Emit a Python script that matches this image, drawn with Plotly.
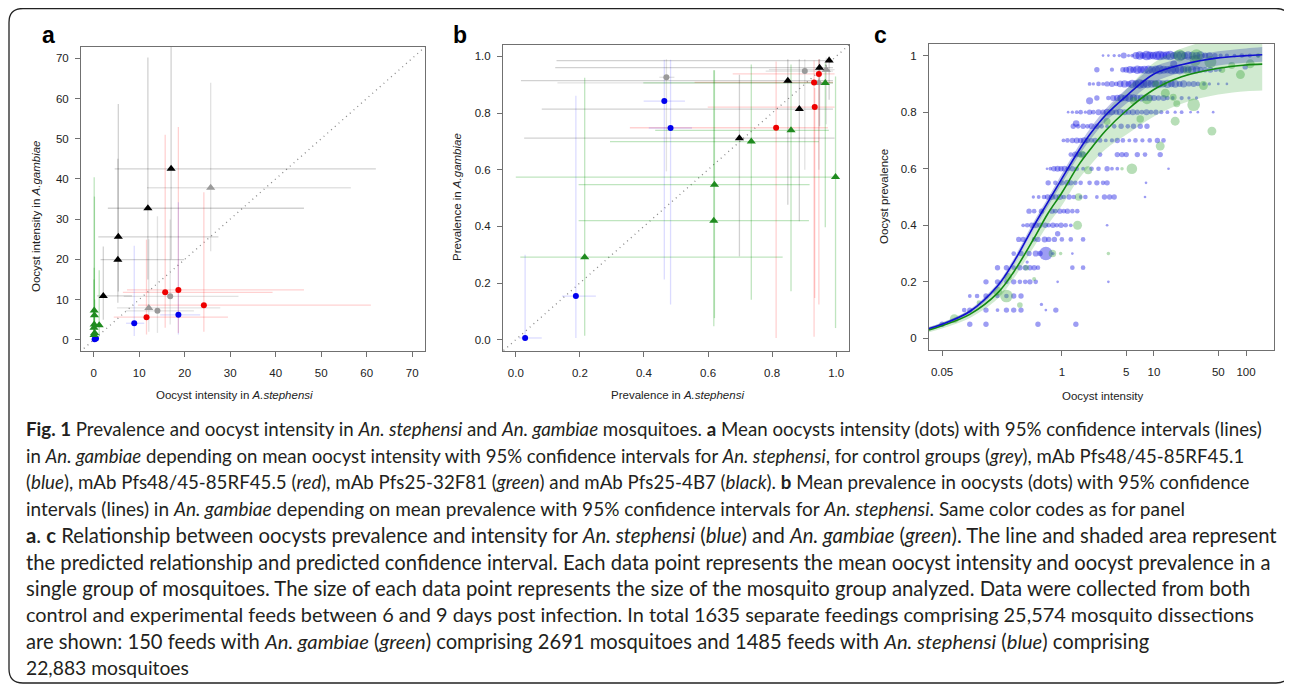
import plotly.graph_objects as go

# the page body has an 8px margin, so the figure is drawn 8px smaller and offset
OFF = 8
W, H = 1292 - OFF, 685 - OFF

# ---------------- Panel a: oocyst intensity (mean, 95% CI) ----------------
a_black_x = [17.0, 11.9, 5.4, 5.3, 2.1]
a_black_y = [42.5, 32.7, 25.6, 19.9, 10.9]
a_black_xlo = [4.6, 3.1, 1.0, 1.5, 0.7]
a_black_xhi = [62.0, 46.2, 27.4, 19.9, 8.4]
a_black_ylo = [20.0, 15.0, 12.0, 9.2, 5.0]
a_black_yhi = [80.0, 70.2, 58.6, 45.0, 23.2]

a_greytri_x = [25.7, 12.1]
a_greytri_y = [37.8, 7.9]
a_greytri_xlo = [11.7, 5.1]
a_greytri_xhi = [56.5, 27.8]
a_greytri_ylo = [22.0, 2.0]
a_greytri_yhi = [63.9, 25.0]

a_greydot_x = [16.8, 14.0]
a_greydot_y = [10.8, 7.2]
a_greydot_xlo = [6.6, 7.0]
a_greydot_xhi = [31.8, 22.0]
a_greydot_ylo = [3.8, 1.7]
a_greydot_yhi = [29.9, 30.7]

a_red_x = [15.7, 18.6, 24.2, 11.6]
a_red_y = [11.8, 12.4, 8.6, 5.6]
a_red_xlo = [6.4, 7.3, 9.7, 4.4]
a_red_xhi = [39.3, 46.2, 60.9, 29.5]
a_red_ylo = [3.0, 1.7, 2.0, 1.3]
a_red_yhi = [51.0, 52.9, 36.7, 24.9]

a_blue_x = [8.9, 18.6, 0.2, 0.5]
a_blue_y = [4.1, 6.2, 0.1, 0.3]
a_blue_xlo = [7.1, 14.6, 0.05, 0.2]
a_blue_xhi = [11.1, 23.4, 0.4, 0.9]
a_blue_ylo = [0.9, 1.3, 0.0, 0.05]
a_blue_yhi = [23.4, 34.2, 0.5, 1.0]

a_green_x = [0.1, 0.15, 0.1, 0.05, 0.2, 1.2, 0.05]
a_green_y = [7.3, 6.1, 3.8, 3.0, 1.7, 3.6, 1.2]
a_green_xlo = [0.02, 0.05, 0.02, 0.01, 0.05, 0.8, 0.01]
a_green_xhi = [0.3, 0.4, 0.3, 0.2, 0.5, 1.8, 0.2]
a_green_ylo = [1.0, 1.0, 0.5, 0.5, 0.2, 0.8, 0.1]
a_green_yhi = [40.4, 35.6, 17.9, 15.0, 10.0, 17.3, 8.0]

a_ticks = [0, 10, 20, 30, 40, 50, 60, 70]

# ---------------- Panel b: prevalence (mean, 95% CI) ----------------
b_blue_x = [0.029, 0.1875, 0.4635, 0.483]
b_blue_y = [0.006, 0.154, 0.842, 0.747]
b_blue_xlo = [0.010, 0.144, 0.399, 0.415]
b_blue_xhi = [0.081, 0.25, 0.528, 0.55]
b_blue_ylo = [0.0, 0.006, 0.212, 0.124]
b_blue_yhi = [0.30, 0.861, 0.988, 0.988]

b_greydot_x = [0.47, 0.902]
b_greydot_y = [0.926, 0.948]
b_greydot_xlo = [0.448, 0.78]
b_greydot_xhi = [0.495, 0.99]
b_greydot_ylo = [0.594, 0.60]
b_greydot_yhi = [0.99, 0.99]

b_greytri_x = [0.969, 0.946]
b_greytri_y = [0.953, 0.906]
b_greytri_xlo = [0.79, 0.13]
b_greytri_xhi = [0.995, 0.99]
b_greytri_ylo = [0.76, 0.60]
b_greytri_yhi = [0.995, 0.99]

b_black_x = [0.978, 0.948, 0.849, 0.885, 0.698]
b_black_y = [0.985, 0.960, 0.914, 0.814, 0.711]
b_black_xlo = [0.127, 0.123, 0.016, 0.081, 0.026]
b_black_xhi = [0.99, 0.99, 0.99, 0.99, 0.995]
b_black_ylo = [0.847, 0.753, 0.476, 0.418, 0.294]
b_black_yhi = [1.0, 0.99, 0.99, 0.99, 0.935]

b_red_x = [0.946, 0.931, 0.933, 0.8125]
b_red_y = [0.938, 0.908, 0.821, 0.748]
b_red_xlo = [0.677, 0.558, 0.599, 0.356]
b_red_xhi = [0.995, 0.99, 0.995, 0.974]
b_red_ylo = [0.124, 0.01, 0.147, 0.006]
b_red_yhi = [0.99, 0.985, 0.888, 0.982]

b_green_x = [0.966, 0.859, 0.735, 0.998, 0.620, 0.618, 0.215]
b_green_y = [0.906, 0.739, 0.699, 0.574, 0.547, 0.42, 0.291]
b_green_xlo = [0.398, 0.435, 0.294, 0.0, 0.196, 0.196, 0.014]
b_green_xhi = [0.99, 0.977, 0.946, 0.999, 0.917, 0.915, 0.833]
b_green_ylo = [0.397, 0.171, 0.141, 0.041, 0.076, 0.047, 0.014]
b_green_yhi = [0.976, 0.971, 0.971, 0.929, 0.951, 0.951, 0.924]

b_ticks = [0.0, 0.2, 0.4, 0.6, 0.8, 1.0]

# ---------------- Panel c: prevalence vs intensity per feed ----------------
steph_levels = [1.0, 0.95, 0.90, 0.85, 0.80, 0.75, 0.70, 0.65, 0.60, 0.55,
                0.50, 0.45, 0.40, 0.35, 0.30, 0.25, 0.20, 0.15, 0.10, 0.05]
steph_int = [
    [2.8, 3.2, 3.7, 4.2, 4.7, 5.3, 5.8, 6.4, 7.0, 7.6, 8.3, 9.0, 9.8, 10.7, 11.6, 12.6, 13.8, 15.0,
     16.5, 18.0, 19.8, 21.5, 23.5, 26, 29, 32, 36, 40, 46, 53, 62, 75, 90, 110, 135],
    [2.4, 3.5, 4.6, 5.0, 5.5, 6.0, 6.6, 7.2, 7.9, 8.7, 9.5, 10.5, 11.5, 12.7, 14, 15.5, 17, 19, 21,
     23.5, 26, 29, 32, 36, 41, 47, 52],
    [2.0, 2.2, 2.5, 2.8, 3.1, 3.5, 3.9, 4.3, 4.8, 5.3, 5.8, 6.4, 7.0, 7.7, 8.5, 9.4, 10.3, 11.3, 12.5,
     14, 15.5, 17, 19, 21, 24, 27, 30, 35, 40, 50, 62],
    [2.4, 3.2, 3.6, 4.0, 4.4, 4.9, 5.4, 6.0, 6.6, 7.3, 8.1, 9.0, 10, 11.2, 12.7, 14, 16, 20, 24, 29],
    [1.17, 1.3, 1.45, 1.6, 1.8, 2.0, 2.2, 2.5, 2.8, 3.1, 3.5, 3.9, 4.3, 4.8, 5.3, 5.9, 6.6, 7.4, 8.3,
     9.3, 10.5, 12, 14, 17, 20, 25, 30, 44],
    [1.33, 1.5, 1.7, 1.9, 2.1, 2.4, 2.7, 3.1, 3.7, 4.4, 5.2, 6.0, 7.1, 8.4],
    [1.04, 1.15, 1.3, 1.45, 1.6, 1.75, 1.9, 2.1, 2.3, 2.6, 3.0, 3.5, 4.0, 4.6, 5.4, 6.3, 7.5, 9.0,
     10.9, 12.7],
    [1.25, 1.4, 1.55, 1.7, 2.6, 4.0, 4.5, 5.0, 6.6, 8.0, 11.7],
    [0.69, 0.75, 0.82, 0.9, 0.98, 1.07, 1.17, 1.3, 1.45, 1.7, 2.1, 2.5, 3.1, 3.5, 4.0, 14.4],
    [0.71, 0.85, 1.0, 1.14, 1.25, 1.4, 1.6, 2.0, 2.4, 2.8, 3.1, 8.2],
    [0.49, 0.56, 0.64, 0.7, 0.78, 0.86, 0.95, 1.05, 1.2, 1.35, 1.6, 1.8, 2.4, 2.9, 3.3, 3.7, 8.0],
    [0.44, 0.5, 0.6, 0.78, 0.85, 0.95, 1.05, 1.15, 1.3, 1.47],
    [0.38, 0.42, 0.47, 0.52, 0.58, 0.66, 0.72, 0.8, 0.88, 0.98, 1.1, 1.25, 3.1],
    [0.34, 0.38, 0.5, 0.55, 0.65, 0.72, 0.83, 1.0, 1.25, 1.7],
    [0.30, 0.36, 0.44, 0.52, 0.58, 0.67, 0.8, 1.3],
    [0.20, 0.25, 0.3, 0.35, 0.4, 0.45, 0.5, 0.55, 1.3, 1.7],
    [0.15, 0.2, 0.25, 0.3, 0.35, 0.4, 0.45, 0.52, 0.9, 3.2],
    [0.1, 0.12, 0.15, 0.2, 0.25, 0.3, 0.36],
    [0.087, 0.1, 0.15, 0.2, 0.25, 0.3, 0.36, 0.67, 0.86],
    [0.05, 0.1, 0.15, 0.55, 1.42],
]
steph_n = [
    [2, 2, 3, 3, 10, 3, 4, 15, 20, 12, 25, 18, 16, 22, 25, 18, 20, 25, 15, 22, 25, 14, 20, 16, 15, 20,
     10, 12, 8, 5, 5, 4, 6, 5, 4],
    [8, 5, 8, 10, 15, 12, 20, 15, 18, 20, 15, 20, 25, 18, 15, 22, 20, 25, 15, 12, 20, 15, 10, 8, 10, 6, 4],
    [4, 3, 6, 4, 8, 10, 6, 12, 15, 10, 20, 15, 25, 18, 20, 16, 15, 20, 14, 18, 12, 16, 10, 14, 8, 10,
     6, 4, 3, 2, 2],
    [8, 6, 10, 12, 15, 12, 18, 15, 12, 14, 10, 12, 10, 8, 10, 6, 4, 5, 3, 3],
    [2, 3, 4, 6, 3, 8, 6, 10, 8, 12, 10, 8, 12, 10, 8, 10, 8, 6, 10, 6, 8, 5, 4, 3, 4, 2, 2, 2],
    [8, 6, 8, 6, 10, 8, 6, 4, 6, 8, 6, 8, 8, 8],
    [4, 6, 8, 10, 8, 12, 8, 6, 8, 6, 4, 5, 8, 6, 4, 6, 5, 6, 8, 6],
    [6, 10, 8, 10, 6, 8, 8, 8, 8, 6, 8],
    [2, 4, 8, 10, 8, 10, 6, 8, 6, 4, 6, 6, 8, 4, 4, 2],
    [8, 6, 8, 10, 8, 6, 6, 6, 8, 6, 8, 2],
    [3, 4, 6, 8, 10, 8, 10, 6, 8, 6, 4, 6, 4, 8, 8, 8, 2],
    [8, 6, 8, 8, 6, 8, 6, 8, 6, 6],
    [4, 6, 8, 10, 8, 8, 6, 8, 6, 8, 6, 4, 2],
    [8, 8, 6, 8, 10, 8, 8, 6, 6, 6],
    [6, 8, 8, 10, 8, 50, 3, 2],
    [8, 8, 6, 8, 8, 8, 8, 6, 6, 6],
    [8, 8, 6, 8, 6, 6, 8, 6, 2, 2],
    [4, 6, 8, 6, 6, 8, 8],
    [6, 8, 8, 4, 8, 8, 8, 2, 8],
    [8, 8, 8, 8, 8],
]
steph_extra_int = [16.4, 98, 2.0, 0.6, 1.43, 0.9, 0.42]
steph_extra_prev = [0.97, 0.96, 0.84, 0.12, 0.76, 0.37, 0.27]
steph_extra_n = [14, 8, 14, 3, 12, 8, 3]

gamb_int = [0.068, 0.126, 0.2, 0.25, 0.26, 0.35, 0.41, 0.79, 0.97, 3.2, 1.48, 1.52, 1.93, 1.65,
            5.76, 11.7, 7.1, 3.1, 17, 42.6, 27, 13.3, 8.4, 16.2, 17.7, 34.5, 87, 111, 70, 41, 28,
            19, 29, 136, 23, 10.5, 6.0, 4.5, 0.5, 13, 55]
gamb_prev = [0.07, 0.126, 0.167, 0.15, 0.218, 0.118, 0.25, 0.30, 0.30, 0.30, 0.40, 0.50, 0.595,
             0.65, 0.60, 0.68, 0.776, 0.767, 0.768, 0.733, 0.826, 0.867, 0.847, 0.853, 0.83, 0.894,
             0.933, 0.971, 0.965, 0.977, 0.982, 1.0, 1.0, 1.0, 0.95, 0.90, 0.84, 0.60, 0.21, 0.90,
             0.95]
gamb_n = [20, 6, 20, 40, 15, 8, 8, 14, 3, 3, 20, 14, 16, 14, 28, 20, 14, 12, 20, 20, 40, 20, 28,
          12, 12, 20, 20, 20, 12, 36, 30, 36, 40, 6, 20, 12, 14, 3, 4, 8, 10]

# fitted curves and confidence bands
fit_int = [0.036, 0.05, 0.1, 0.2, 0.3, 0.5, 0.7, 1.0, 1.5, 2.0, 3.0, 5.0, 10, 20, 50, 100, 150]
steph_fit = [0.035, 0.05, 0.095, 0.185, 0.27, 0.40, 0.48, 0.565, 0.66, 0.72, 0.79, 0.857, 0.935,
             0.968, 0.992, 1.0, 1.003]
steph_lo = [0.03, 0.045, 0.088, 0.175, 0.258, 0.385, 0.465, 0.548, 0.642, 0.70, 0.768, 0.83,
            0.905, 0.94, 0.965, 0.975, 0.978]
steph_hi = [0.04, 0.055, 0.102, 0.195, 0.282, 0.415, 0.495, 0.582, 0.678, 0.74, 0.812, 0.882,
            0.96, 0.99, 1.015, 1.025, 1.03]
gamb_fit = [0.03, 0.045, 0.085, 0.16, 0.235, 0.355, 0.44, 0.515, 0.61, 0.665, 0.735, 0.805, 0.88,
            0.925, 0.955, 0.967, 0.97]
gamb_lo = [0.022, 0.035, 0.072, 0.14, 0.212, 0.325, 0.40, 0.47, 0.56, 0.61, 0.67, 0.72, 0.785,
           0.83, 0.862, 0.874, 0.877]
gamb_hi = [0.04, 0.056, 0.10, 0.18, 0.26, 0.385, 0.48, 0.56, 0.66, 0.72, 0.80, 0.88, 0.975,
           1.025, 1.06, 1.07, 1.07]

c_xticks = [0.05, 1, 5, 10, 50, 100]
c_xticktext = ["0.05", "1", "5", "10", "50", "100"]
c_yticks = [0, 0.2, 0.4, 0.6, 0.8, 1]
c_yticktext = ["0", "0.2", "0.4", "0.6", "0.8", "1"]

caption_lines = [
    "<b>Fig. 1</b> Prevalence and oocyst intensity in <i>An. stephensi</i> and <i>An. gambiae</i> mosquitoes. <b>a</b> Mean oocysts intensity (dots) with 95% confidence intervals (lines)",
    "in <i>An. gambiae</i> depending on mean oocyst intensity with 95% confidence intervals for <i>An. stephensi</i>, for control groups (<i>grey</i>), mAb Pfs48/45-85RF45.1",
    "(<i>blue</i>), mAb Pfs48/45-85RF45.5 (<i>red</i>), mAb Pfs25-32F81 (<i>green</i>) and mAb Pfs25-4B7 (<i>black</i>). <b>b</b> Mean prevalence in oocysts (dots) with 95% confidence",
    "intervals (lines) in <i>An. gambiae</i> depending on mean prevalence with 95% confidence intervals for <i>An. stephensi</i>. Same color codes as for panel",
    "<b>a</b>. <b>c</b> Relationship between oocysts prevalence and intensity for <i>An. stephensi</i> (<i>blue</i>) and <i>An. gambiae</i> (<i>green</i>). The line and shaded area represent",
    "the predicted relationship and predicted confidence interval. Each data point represents the mean oocyst intensity and oocyst prevalence in a",
    "single group of mosquitoes. The size of each data point represents the size of the mosquito group analyzed. Data were collected from both",
    "control and experimental feeds between 6 and 9 days post infection. In total 1635 separate feedings comprising 25,574 mosquito dissections",
    "are shown: 150 feeds with <i>An. gambiae</i> (<i>green</i>) comprising 2691 mosquitoes and 1485 feeds with <i>An. stephensi</i> (<i>blue</i>) comprising",
    "22,883 mosquitoes",
]

# ---------------- build figure ----------------
def X(px):
    return (px - OFF) / W


def Y(py):
    return 1 - (py - OFF) / H


fig = go.Figure()


def ci(x, y, xlo, xhi, ylo, yhi, color, xa, ya):
    fig.add_trace(go.Scatter(
        x=x, y=y, mode="markers", marker=dict(size=1, opacity=0), xaxis=xa, yaxis=ya,
        error_x=dict(type="data", symmetric=False, array=[h - v for h, v in zip(xhi, x)],
                     arrayminus=[v - l for v, l in zip(x, xlo)], color=color, thickness=1.3, width=0),
        error_y=dict(type="data", symmetric=False, array=[h - v for h, v in zip(yhi, y)],
                     arrayminus=[v - l for v, l in zip(y, ylo)], color=color, thickness=1.3, width=0),
        hoverinfo="skip"))


def pts(x, y, symbol, color, size, xa, ya):
    fig.add_trace(go.Scatter(x=x, y=y, mode="markers", xaxis=xa, yaxis=ya,
                             marker=dict(symbol=symbol, color=color, size=size, line=dict(width=0))))


C_GREY_L = "rgba(150,150,150,0.28)"
C_BLACK_L = "rgba(0,0,0,0.18)"
C_RED_L = "rgba(255,0,0,0.18)"
C_BLUE_L = "rgba(0,0,255,0.14)"
C_GREEN_L = "rgba(0,150,0,0.25)"
GREY, BLACK, RED, BLUE, GREEN = "#9a9a9a", "#000000", "#ee0000", "#0000ee", "#1f8b1f"

# diagonal reference lines
diag_a = [-3, 75]
diag_b = [-0.05, 1.05]
fig.add_trace(go.Scatter(x=diag_a, y=diag_a, mode="lines", xaxis="x", yaxis="y",
                         line=dict(color="#8a8a8a", width=1.3, dash="1px,4px")))
fig.add_trace(go.Scatter(x=diag_b, y=diag_b, mode="lines", xaxis="x2", yaxis="y2",
                         line=dict(color="#8a8a8a", width=1.3, dash="1px,4px")))

# panel a
ci(a_greytri_x, a_greytri_y, a_greytri_xlo, a_greytri_xhi, a_greytri_ylo, a_greytri_yhi, C_GREY_L, "x", "y")
ci(a_greydot_x, a_greydot_y, a_greydot_xlo, a_greydot_xhi, a_greydot_ylo, a_greydot_yhi, C_GREY_L, "x", "y")
ci(a_black_x, a_black_y, a_black_xlo, a_black_xhi, a_black_ylo, a_black_yhi, C_BLACK_L, "x", "y")
ci(a_red_x, a_red_y, a_red_xlo, a_red_xhi, a_red_ylo, a_red_yhi, C_RED_L, "x", "y")
ci(a_blue_x, a_blue_y, a_blue_xlo, a_blue_xhi, a_blue_ylo, a_blue_yhi, C_BLUE_L, "x", "y")
ci(a_green_x, a_green_y, a_green_xlo, a_green_xhi, a_green_ylo, a_green_yhi, C_GREEN_L, "x", "y")
pts(a_greytri_x, a_greytri_y, "triangle-up", GREY, 8, "x", "y")
pts(a_greydot_x, a_greydot_y, "circle", GREY, 6, "x", "y")
pts(a_black_x, a_black_y, "triangle-up", BLACK, 8, "x", "y")
pts(a_red_x, a_red_y, "circle", RED, 6, "x", "y")
pts(a_blue_x, a_blue_y, "circle", BLUE, 6, "x", "y")
pts(a_green_x, a_green_y, "triangle-up", GREEN, 8, "x", "y")

# panel b
ci(b_greytri_x, b_greytri_y, b_greytri_xlo, b_greytri_xhi, b_greytri_ylo, b_greytri_yhi, C_GREY_L, "x2", "y2")
ci(b_greydot_x, b_greydot_y, b_greydot_xlo, b_greydot_xhi, b_greydot_ylo, b_greydot_yhi, C_GREY_L, "x2", "y2")
ci(b_black_x, b_black_y, b_black_xlo, b_black_xhi, b_black_ylo, b_black_yhi, C_BLACK_L, "x2", "y2")
ci(b_red_x, b_red_y, b_red_xlo, b_red_xhi, b_red_ylo, b_red_yhi, C_RED_L, "x2", "y2")
ci(b_blue_x, b_blue_y, b_blue_xlo, b_blue_xhi, b_blue_ylo, b_blue_yhi, C_BLUE_L, "x2", "y2")
ci(b_green_x, b_green_y, b_green_xlo, b_green_xhi, b_green_ylo, b_green_yhi, C_GREEN_L, "x2", "y2")
pts(b_greytri_x, b_greytri_y, "triangle-up", GREY, 8, "x2", "y2")
pts(b_greydot_x, b_greydot_y, "circle", GREY, 6, "x2", "y2")
pts(b_black_x, b_black_y, "triangle-up", BLACK, 8, "x2", "y2")
pts(b_red_x, b_red_y, "circle", RED, 6, "x2", "y2")
pts(b_blue_x, b_blue_y, "circle", BLUE, 6, "x2", "y2")
pts(b_green_x, b_green_y, "triangle-up", GREEN, 8, "x2", "y2")

# panel c points
sx, sy, ss = [], [], []
for lev, row_x, row_n in zip(steph_levels, steph_int, steph_n):
    sx += row_x
    sy += [lev] * len(row_x)
    ss += row_n
sx += steph_extra_int
sy += steph_extra_prev
ss += steph_extra_n
fig.add_trace(go.Scatter(x=sx, y=sy, mode="markers", xaxis="x3", yaxis="y3",
                         marker=dict(color="rgba(0,0,225,0.55)", size=[1.9 * n ** 0.5 for n in ss],
                                     line=dict(width=0))))
fig.add_trace(go.Scatter(x=gamb_int, y=gamb_prev, mode="markers", xaxis="x3", yaxis="y3",
                         marker=dict(color="rgba(50,160,50,0.5)", size=[2.0 * n ** 0.5 for n in gamb_n],
                                     line=dict(width=0))))
# bands
fig.add_trace(go.Scatter(x=fit_int, y=gamb_lo, mode="lines", line=dict(width=0, shape="spline"),
                         xaxis="x3", yaxis="y3"))
fig.add_trace(go.Scatter(x=fit_int, y=gamb_hi, mode="lines", line=dict(width=0, shape="spline"),
                         fill="tonexty", fillcolor="rgba(40,160,40,0.22)", xaxis="x3", yaxis="y3"))
fig.add_trace(go.Scatter(x=fit_int, y=steph_lo, mode="lines", line=dict(width=0, shape="spline"),
                         xaxis="x3", yaxis="y3"))
fig.add_trace(go.Scatter(x=fit_int, y=steph_hi, mode="lines", line=dict(width=0, shape="spline"),
                         fill="tonexty", fillcolor="rgba(40,60,170,0.30)", xaxis="x3", yaxis="y3"))
fig.add_trace(go.Scatter(x=fit_int, y=gamb_fit, mode="lines", line=dict(color="#138a13", width=1.6, shape="spline"),
                         xaxis="x3", yaxis="y3"))
fig.add_trace(go.Scatter(x=fit_int, y=steph_fit, mode="lines", line=dict(color="#1010d0", width=1.6, shape="spline"),
                         xaxis="x3", yaxis="y3"))

TICKFONT = dict(family="Liberation Sans, Arial, sans-serif", size=11.5, color="#222222")
base = dict(showline=True, mirror=True, linecolor="#707070", linewidth=1, ticks="outside", ticklen=5,
            tickcolor="#707070", tickwidth=1, showgrid=False, zeroline=False, tickfont=TICKFONT)

fig.update_layout(
    width=W, height=H, margin=dict(l=0, r=0, t=0, b=0), showlegend=False,
    paper_bgcolor="white", plot_bgcolor="white",
    xaxis=dict(base, domain=[X(81), X(425)], range=[-2.8, 72.8], tickvals=a_ticks, anchor="y",
               ticklabelstandoff=6),
    yaxis=dict(base, domain=[Y(351), Y(47)], range=[-2.8, 72.8], tickvals=a_ticks, anchor="x",
               ticklabelstandoff=4),
    xaxis2=dict(base, domain=[X(503), X(849)], range=[-0.04, 1.04], tickvals=b_ticks, tickformat=".1f",
                anchor="y2", ticklabelstandoff=6),
    yaxis2=dict(base, domain=[Y(351), Y(45)], range=[-0.04, 1.04], tickvals=b_ticks, tickformat=".1f",
                anchor="x2", ticklabelstandoff=4),
    xaxis3=dict(base, domain=[X(929), X(1274)], type="log", range=[-1.443, 2.304], tickvals=c_xticks,
                ticktext=c_xticktext, anchor="y3", ticklabelstandoff=6),
    yaxis3=dict(base, domain=[Y(350), Y(44)], range=[-0.041, 1.041], tickvals=c_yticks,
                ticktext=c_yticktext, anchor="x3", ticklabelstandoff=4),
)

TF = dict(family="Liberation Sans, Arial, sans-serif", size=11.5, color="#222222")
ann = []
# panel letters
for letter, px in (("a", 48), ("b", 460), ("c", 880)):
    ann.append(dict(text=f"<b>{letter}</b>", x=X(px), y=Y(35), xref="paper", yref="paper",
                    showarrow=False, xanchor="center", yanchor="middle",
                    font=dict(family="Liberation Sans, Arial, sans-serif", size=23, color="#000")))
# axis titles
ann += [
    dict(text="Oocyst intensity in <i>A.stephensi</i>", x=X(234), y=Y(395), textangle=0),
    dict(text="Oocyst intensity in <i>A.gambiae</i>", x=X(36), y=Y(216), textangle=-90),
    dict(text="Prevalence in <i>A.stephensi</i>", x=X(677), y=Y(395), textangle=0),
    dict(text="Prevalence in <i>A.gambiae</i>", x=X(457), y=Y(197), textangle=-90),
    dict(text="Oocyst intensity", x=X(1102), y=Y(396), textangle=0),
    dict(text="Oocyst prevalence", x=X(884), y=Y(197), textangle=-90),
]
for a in ann[3:]:
    a.update(xref="paper", yref="paper", showarrow=False, xanchor="center", yanchor="middle", font=TF)
# caption (justified-looking lines are set slightly larger to match their width)
caption_y = [429, 455.5, 482, 508.5, 535, 561.5, 588, 614, 640.5, 667]
caption_size = [18.7, 18.6, 18.7, 19.0, 20.3, 20.2, 20.3, 19.9, 20.2, 19.3]
for line, cy, fs in zip(caption_lines, caption_y, caption_size):
    ann.append(dict(text=line, x=X(24), y=Y(cy), xref="paper", yref="paper", showarrow=False,
                    xanchor="left", yanchor="middle",
                    font=dict(family="Lato, sans-serif", size=fs, color="#231f20")))
fig.update_layout(annotations=ann)

# rounded frame around the figure
x0, y0, x1, y1, r = 9, 8.5, 1290, 683, 14
path = (f"M {X(x0 + r)},{Y(y0)} L {X(x1 - r)},{Y(y0)} Q {X(x1)},{Y(y0)} {X(x1)},{Y(y0 + r)} "
        f"L {X(x1)},{Y(y1 - r)} Q {X(x1)},{Y(y1)} {X(x1 - r)},{Y(y1)} L {X(x0 + r)},{Y(y1)} "
        f"Q {X(x0)},{Y(y1)} {X(x0)},{Y(y1 - r)} L {X(x0)},{Y(y0 + r)} Q {X(x0)},{Y(y0)} {X(x0 + r)},{Y(y0)} Z")
fig.add_shape(type="path", path=path, xref="paper", yref="paper", line=dict(color="#222", width=1.3))

fig.write_html("out.html")
